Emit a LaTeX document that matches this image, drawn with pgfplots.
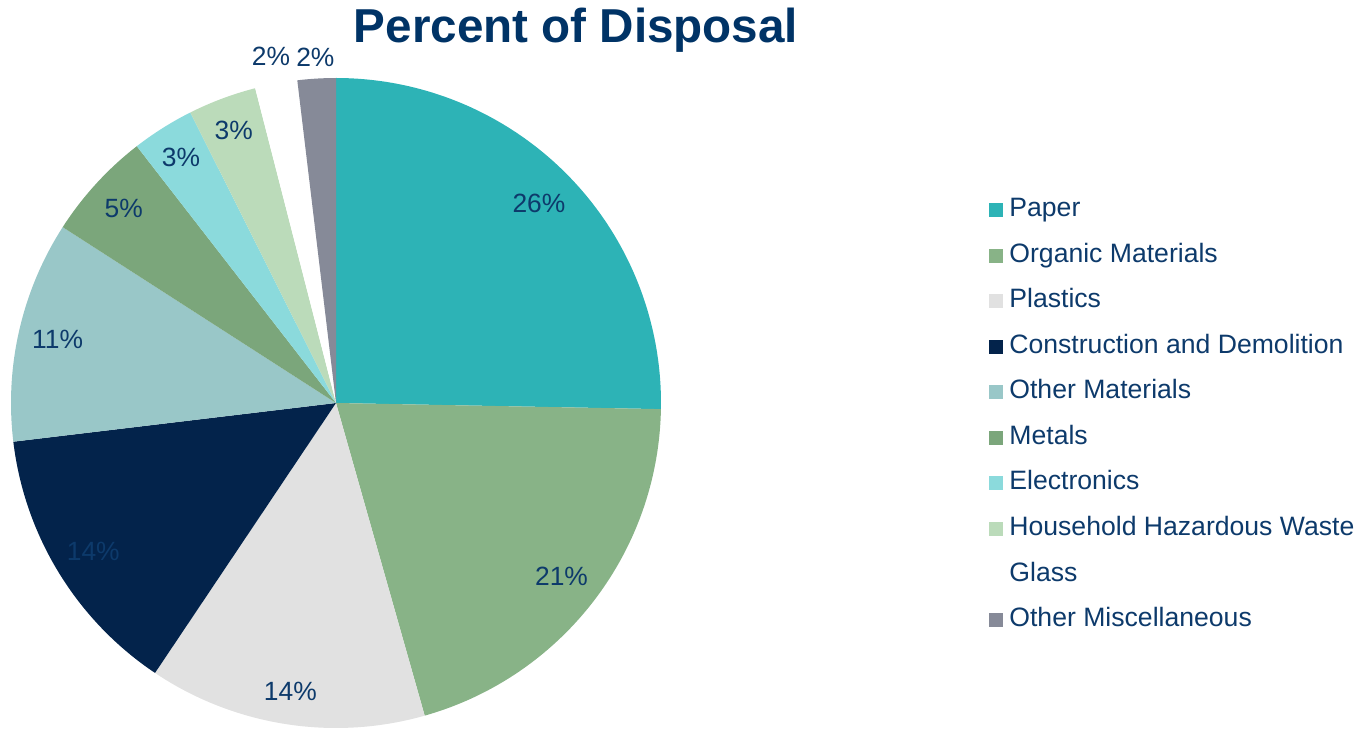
\documentclass[border=0pt]{standalone}
\usepackage{pgfplots}
\pgfplotsset{compat=1.18}
\usepackage{pgfplotstable}
\usetikzlibrary{calc}
\usepackage{fontspec}
\setmainfont{Liberation Sans}

\definecolor{slice0}{HTML}{2DB3B6}
\definecolor{slice1}{HTML}{88B387}
\definecolor{slice2}{HTML}{E1E1E1}
\definecolor{slice3}{HTML}{03234B}
\definecolor{slice4}{HTML}{99C7C8}
\definecolor{slice5}{HTML}{7BA67B}
\definecolor{slice6}{HTML}{8BDADC}
\definecolor{slice7}{HTML}{BBDBBA}
\definecolor{slice8}{HTML}{FFFFFF}
\definecolor{slice9}{HTML}{868A98}
\definecolor{txtc}{HTML}{0D3A6B}
\definecolor{titlec}{HTML}{003366}

\pgfplotstableread[col sep=comma]{
name,value,label,lr
Paper,25.3,26,0.875
Organic Materials,20.3,21,0.876
Plastics,13.8,14,0.898
Construction and Demolition,13.7,14,0.876
Other Materials,11.0,11,0.879
Metals,5.4,5,0.886
Electronics,3.1,3,0.895
Household Hazardous Waste,3.4,3,0.897
Glass,2.1,2,1.085
Other Miscellaneous,1.9,2,1.066
}\piedata

\begin{document}
\begin{tikzpicture}
\def\cumangle{90}
\pgfplotsforeachungrouped \i in {0,...,9}{%
  \pgfplotstablegetelem{\i}{value}\of\piedata
  \pgfmathsetmacro{\endang}{\cumangle-3.6*\pgfplotsretval}
  \pgfmathsetmacro{\midang}{(\cumangle+\endang)/2}
  \expandafter\xdef\csname sa\i\endcsname{\cumangle}
  \expandafter\xdef\csname ea\i\endcsname{\endang}
  \expandafter\xdef\csname ma\i\endcsname{\midang}
  \pgfplotstablegetelem{\i}{label}\of\piedata
  \expandafter\xdef\csname lb\i\endcsname{\pgfplotsretval}
  \pgfplotstablegetelem{\i}{lr}\of\piedata
  \pgfmathsetmacro{\lrad}{162.5*\pgfplotsretval}
  \expandafter\xdef\csname lr\i\endcsname{\lrad}
  \pgfplotstablegetelem{\i}{name}\of\piedata
  \expandafter\xdef\csname nm\i\endcsname{\pgfplotsretval}
  \xdef\cumangle{\endang}
}
\begin{axis}[
  width=685.5pt, height=362.5pt, scale only axis,
  xmin=0, xmax=1371, ymin=0, ymax=725,
  hide axis, clip=false,
  legend style={at={(axis cs:983,532)}, anchor=north west, draw=none, fill=none,
    font=\fontsize{13.3}{15}\selectfont\color{txtc},
    nodes={inner sep=0pt, text height=9.5pt, text depth=3pt},
    row sep=10.3pt, column sep=3pt},
  legend cell align=left,
  legend image code/.code={\fill[#1, draw=none] (0pt,-3.5pt) rectangle (7pt,3.5pt);},
]
\path (axis cs:0,0) (axis cs:1371,725);
\pgfplotsinvokeforeach{0,...,9}{
  \fill[fill=slice#1] (axis cs:336,322) -- ++(\csname sa#1\endcsname:162.5pt)
    arc[start angle=\csname sa#1\endcsname, end angle=\csname ea#1\endcsname, radius=162.5pt] -- cycle;
}
\pgfplotsinvokeforeach{0,...,9}{
  \node[text=txtc, font=\fontsize{13.2}{15}\selectfont, inner sep=0pt]
    at ($(axis cs:336,322)+(\csname ma#1\endcsname:\csname lr#1\endcsname pt)$) {\csname lb#1\endcsname\%};
}
\pgfplotsinvokeforeach{0,...,9}{
  \addlegendimage{fill=slice#1, draw=none}
  \addlegendentry{\csname nm#1\endcsname}
}
\node[font=\fontsize{23.8}{28}\selectfont\bfseries, text=titlec, inner sep=0pt]
  at (axis cs:576,695) {Percent of Disposal};
\end{axis}
\end{tikzpicture}
\end{document}
